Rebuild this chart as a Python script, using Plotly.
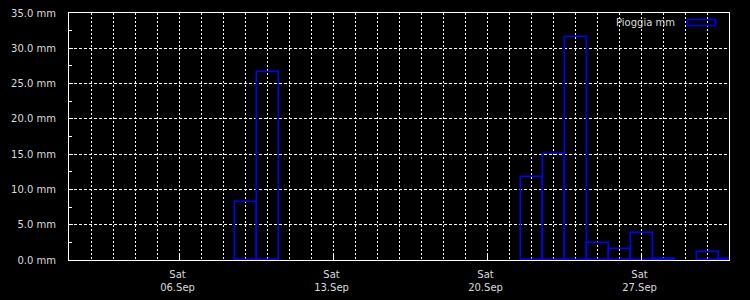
import plotly.graph_objects as go

# Daily rainfall (mm), each bar centred on the day
days = ["2025-09-09", "2025-09-10", "2025-09-22", "2025-09-23", "2025-09-24",
        "2025-09-25", "2025-09-26", "2025-09-27", "2025-09-28", "2025-09-30",
        "2025-10-01"]
rain_mm = [8.2, 26.7, 11.7, 15.0, 31.6, 2.4, 1.5, 3.8, 0.15, 1.1, 0.15]

x_ticks = ["2025-09-06", "2025-09-13", "2025-09-20", "2025-09-27"]
x_ticktext = ["Sat<br>06.Sep", "Sat<br>13.Sep", "Sat<br>20.Sep", "Sat<br>27.Sep"]
y_ticks = [0, 5, 10, 15, 20, 25, 30, 35]
y_ticktext = ["%.1f mm" % v for v in y_ticks]

DAY_MS = 86400000
# visible window: 1 Sep -> 1 Oct, nudged by half a pixel so bar edges are crisp
x_range = ["2025-08-31 23:27:16", "2025-09-30 23:27:16"]
FONT = dict(family="DejaVu Sans", size=10, color="#dcdcdc")

fig = go.Figure()
fig.add_trace(go.Bar(
    x=days, y=rain_mm, width=[DAY_MS] * len(days),
    marker=dict(color="rgba(0,0,0,0)", line=dict(color="#0000ff", width=1.5)),
    name="Pioggia mm", showlegend=False,
))

fig.update_layout(
    width=750, height=300,
    margin=dict(l=69, r=21, t=13, b=40, autoexpand=False),
    paper_bgcolor="black", plot_bgcolor="black",
    font=FONT, bargap=0,
)
fig.update_xaxes(
    type="date", range=x_range, automargin=False,
    tickmode="array", tickvals=x_ticks, ticktext=x_ticktext,
    ticks="inside", ticklen=7, tickcolor="white", tickwidth=1,
    showline=True, linecolor="white", linewidth=1, mirror=True,
    showgrid=True, gridcolor="white", gridwidth=1, griddash="2px,2px",
    minor=dict(dtick=DAY_MS, tick0="2025-09-01", showgrid=True, gridcolor="white",
               gridwidth=1, griddash="2px,2px", ticks=""),
    zeroline=False, ticklabelshift=-2, ticklabelstandoff=5,
    tickfont=FONT,
)
fig.update_yaxes(
    range=[0, 35], automargin=False, tickmode="array", tickvals=y_ticks, ticktext=y_ticktext,
    ticks="inside", ticklen=4, tickcolor="white", tickwidth=1,
    showline=True, linecolor="white", linewidth=1, mirror=True,
    showgrid=True, gridcolor="white", gridwidth=1, griddash="3px,2px",
    minor=dict(dtick=2.5, tick0=0, ticks="inside", ticklen=3, tickcolor="white",
               showgrid=False),
    zeroline=False, ticklabelstandoff=10,
    tickfont=FONT,
)

# Legend (text + outlined swatch)
fig.add_annotation(xref="paper", yref="paper", x=(677 - 69) / 660, y=(247 - 9) / 247,
                   xanchor="right", yanchor="middle", showarrow=False,
                   text="Pioggia mm", font=FONT)
fig.add_shape(type="rect", xref="paper", yref="paper",
              x0=(687.5 - 69) / 660, x1=(715.5 - 69) / 660,
              y0=(247 - 6.5) / 247, y1=(247 - 12.5) / 247,
              line=dict(color="#0000ff", width=1.5), fillcolor="rgba(0,0,0,0)")

fig.write_html("out.html")
